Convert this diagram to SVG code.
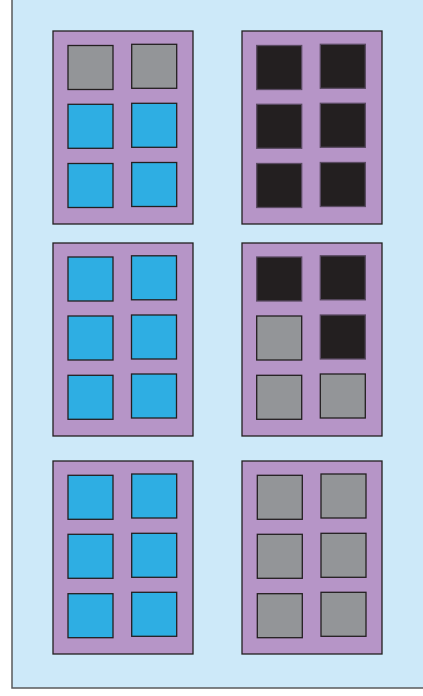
<svg xmlns="http://www.w3.org/2000/svg" width="423" height="696" viewBox="0 0 423 696">
<style>
.bg{fill:#cde9f9;stroke:#58595b;stroke-width:1.5}
.panel{fill:#b695c7;stroke:#231f20;stroke-width:1.3}
.sq{stroke:#231f20;stroke-width:1.3}
.b{fill:#2eaee3}
.g{fill:#939598}
.k{fill:#231f20;stroke:#5a4a62}
</style>
<rect class="bg" x="12" y="-5" width="420" height="693"/>
<g id="panel-1" transform="translate(53,31)">
<rect class="panel" x="0" y="0" width="140" height="193"/>
<rect class="sq g" x="15" y="14.5" width="45" height="44"/>
<rect class="sq g" x="78.7" y="13.3" width="45" height="44"/>
<rect class="sq b" x="15" y="73.3" width="45" height="44"/>
<rect class="sq b" x="78.7" y="72.3" width="45" height="44"/>
<rect class="sq b" x="15" y="132.5" width="45" height="44"/>
<rect class="sq b" x="78.7" y="131.5" width="45" height="44"/>
</g>
<g id="panel-2" transform="translate(242,31)">
<rect class="panel" x="0" y="0" width="140" height="193"/>
<rect class="sq k" x="14.7" y="14.5" width="45" height="44"/>
<rect class="sq k" x="78.3" y="13.3" width="45" height="44"/>
<rect class="sq k" x="14.7" y="73.3" width="45" height="44"/>
<rect class="sq k" x="78.3" y="72.3" width="45" height="44"/>
<rect class="sq k" x="14.7" y="132.5" width="45" height="44"/>
<rect class="sq k" x="78.3" y="131.5" width="45" height="44"/>
</g>
<g id="panel-3" transform="translate(53,243)">
<rect class="panel" x="0" y="0" width="140" height="193"/>
<rect class="sq b" x="15" y="14" width="45" height="44"/>
<rect class="sq b" x="78.5" y="12.8" width="45" height="44"/>
<rect class="sq b" x="15" y="73" width="45" height="44"/>
<rect class="sq b" x="78.5" y="72" width="45" height="44"/>
<rect class="sq b" x="15" y="132.3" width="45" height="44"/>
<rect class="sq b" x="78.5" y="131" width="45" height="44"/>
</g>
<g id="panel-4" transform="translate(242,243)">
<rect class="panel" x="0" y="0" width="140" height="193"/>
<rect class="sq k" x="14.7" y="14" width="45" height="44"/>
<rect class="sq k" x="78.3" y="12.8" width="45" height="44"/>
<rect class="sq g" x="14.7" y="73" width="45" height="44"/>
<rect class="sq k" x="78.3" y="72" width="45" height="44"/>
<rect class="sq g" x="14.7" y="132.3" width="45" height="44"/>
<rect class="sq g" x="78.3" y="131" width="45" height="44"/>
</g>
<g id="panel-5" transform="translate(53,461)">
<rect class="panel" x="0" y="0" width="140" height="193"/>
<rect class="sq b" x="15" y="14.3" width="45" height="44"/>
<rect class="sq b" x="78.7" y="13" width="45" height="44"/>
<rect class="sq b" x="15" y="73.3" width="45" height="44"/>
<rect class="sq b" x="78.7" y="72.3" width="45" height="44"/>
<rect class="sq b" x="15" y="132.7" width="45" height="44"/>
<rect class="sq b" x="78.7" y="131.3" width="45" height="44"/>
</g>
<g id="panel-6" transform="translate(242,461)">
<rect class="panel" x="0" y="0" width="140" height="193"/>
<rect class="sq g" x="15.3" y="14.3" width="45" height="44"/>
<rect class="sq g" x="79" y="13" width="45" height="44"/>
<rect class="sq g" x="15.3" y="73.3" width="45" height="44"/>
<rect class="sq g" x="79" y="72.3" width="45" height="44"/>
<rect class="sq g" x="15.3" y="132.7" width="45" height="44"/>
<rect class="sq g" x="79" y="131.3" width="45" height="44"/>
</g>
</svg>
